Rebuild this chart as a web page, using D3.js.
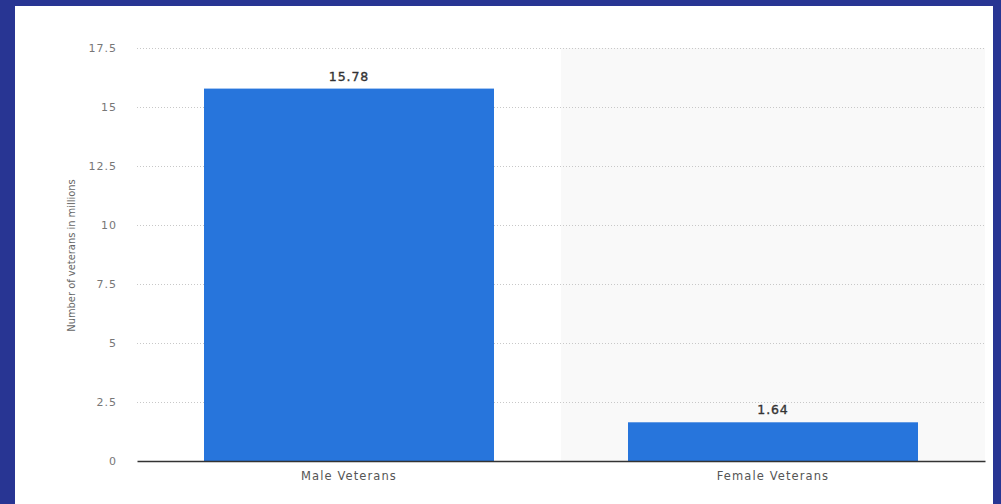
<!DOCTYPE html>
<html><head><meta charset="utf-8">
<script src="https://cdn.jsdelivr.net/npm/d3@7"></script>
<style>
html,body{margin:0;padding:0;background:#283593;}
svg{display:block;}
text{font-family:"DejaVu Sans",Verdana,sans-serif;}
</style></head>
<body>
<svg id="c" width="1001" height="504"></svg>
<script>
const categories = ["Male Veterans", "Female Veterans"];
const values = [15.78, 1.64];
const valueLabels = ["15.78", "1.64"];
const yTicks = [0, 2.5, 5, 7.5, 10, 12.5, 15, 17.5];
const yTickLabels = ["0", "2.5", "5", "7.5", "10", "12.5", "15", "17.5"];
const yTitle = "Number of veterans in millions";

const svg = d3.select("#c");
svg.append("rect").attr("x",0).attr("y",0).attr("width",1001).attr("height",504).attr("fill","#283593");
svg.append("rect").attr("x",15).attr("y",6).attr("width",978).attr("height",498).attr("fill","#ffffff");

const m = {left:137, right:985, top:48, bottom:461};
const x = d3.scaleBand().domain(categories).range([m.left, m.right]).paddingInner(0).paddingOuter(0);
const y = d3.scaleLinear().domain([0, 17.5]).range([m.bottom, m.top]);

// alternating band background
svg.append("g").selectAll("rect").data(categories.filter((d,i)=>i%2===1)).join("rect")
  .attr("x", d=>x(d)).attr("y", y(17.5)).attr("width", x.bandwidth()).attr("height", y(0)-y(17.5))
  .attr("fill","#f9f9f9");

// gridlines
const yAxisGrid = d3.axisLeft(y).tickValues(yTicks.filter(t=>t>0)).tickSize(-(m.right-m.left)).tickFormat("");
const gg = svg.append("g").attr("transform",`translate(${m.left},0)`).call(yAxisGrid);
gg.select(".domain").remove();
gg.selectAll("line").attr("stroke","#c8c8c8").attr("stroke-width",1).attr("stroke-dasharray","1,2");

// y tick labels
const yAxis = d3.axisLeft(y).tickValues(yTicks).tickSize(0).tickPadding(20)
  .tickFormat((d,i)=>yTickLabels[i]);
const ga = svg.append("g").attr("transform",`translate(${m.left},0)`).call(yAxis);
ga.select(".domain").remove();
ga.selectAll("text").attr("font-size",11).attr("fill","#777").attr("letter-spacing","1px")
  .attr("font-family","DejaVu Sans, Verdana, sans-serif");

// bars
const barRatio = 290/424;
const barW = x.bandwidth()*barRatio;
svg.append("g").selectAll("rect").data(values).join("rect")
  .attr("x",(d,i)=>x(categories[i]) + (x.bandwidth()-barW)/2)
  .attr("y",d=>y(d)).attr("width",barW).attr("height",d=>y(0)-y(d))
  .attr("fill","#2775dc");

// value labels
svg.append("g").selectAll("text").data(values).join("text")
  .attr("x",(d,i)=>x(categories[i])+x.bandwidth()/2)
  .attr("y",d=>y(d)-8)
  .attr("text-anchor","middle").attr("font-size",12.5).attr("font-weight","normal")
  .attr("fill","#333").attr("stroke","#333").attr("stroke-width",0.35).attr("letter-spacing","0.9px")
  .text((d,i)=>valueLabels[i]);

// x axis
const xAxis = d3.axisBottom(x).tickSize(0).tickPadding(11);
const gx = svg.append("g").attr("transform",`translate(0,${m.bottom})`).call(xAxis);
gx.select(".domain").attr("stroke","#333").attr("stroke-width",1.5);
gx.selectAll("text").attr("font-size",11.5).attr("fill","#555").attr("letter-spacing","1.1px")
  .attr("font-family","DejaVu Sans, Verdana, sans-serif");

// y title
svg.append("text").attr("transform",`translate(75,${(m.top+m.bottom)/2+1}) rotate(-90)`)
  .attr("text-anchor","middle").attr("font-size",11).attr("fill","#666")
  .style("font-family","'Liberation Sans Narrow', 'DejaVu Sans Condensed', sans-serif")
  .text(yTitle);
</script>
</body></html>
